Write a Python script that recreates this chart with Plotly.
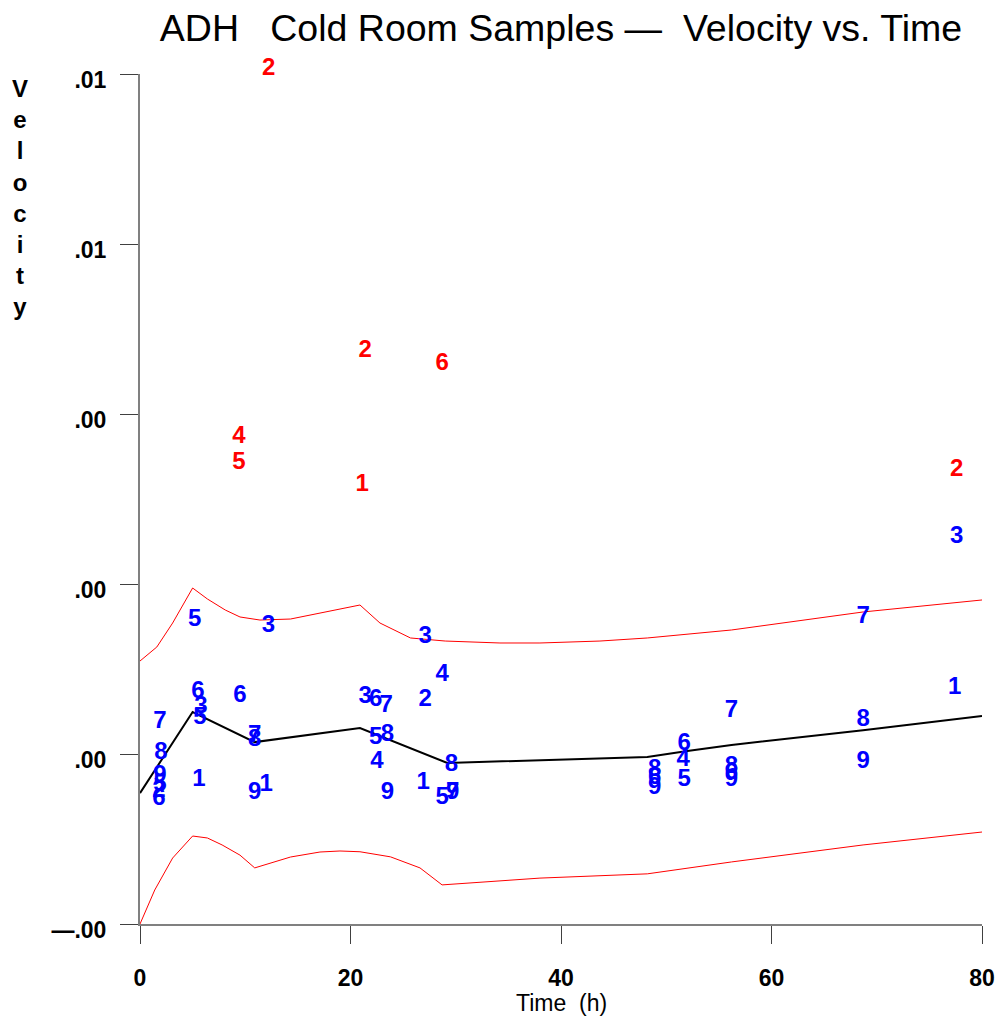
import plotly.graph_objects as go

FONT = "Liberation Sans, Arial, sans-serif"

# Outlier observations (red) : time (h), velocity, sample label
red_time = [12.2, 21.4, 28.7, 9.4, 9.4, 21.1, 77.6]
red_vel = [0.00809, 0.00474, 0.00459, 0.00373, 0.00342, 0.00316, 0.00334]
red_lab = ["2", "2", "6", "4", "5", "1", "2"]

# Regular observations (blue)
blue_time = [77.6, 5.2, 12.2, 68.7, 27.1, 28.7, 77.4, 5.5, 9.5, 21.4, 22.4, 23.4,
             27.1, 5.8, 5.7, 1.9, 56.2, 68.7, 10.9, 10.9, 22.4, 23.5, 51.7, 2.0,
             22.5, 29.6, 51.6, 68.7, 5.6, 1.9, 48.9, 48.9, 48.9, 51.7, 56.2, 56.2,
             56.2, 12.0, 10.9, 26.9, 23.5, 28.7, 29.7, 29.7, 1.9, 1.8, 1.8]
blue_vel = [0.00255, 0.00158, 0.00151, 0.00161, 0.00138, 0.00093, 0.00078, 0.00073,
            0.00068, 0.00067, 0.000635, 0.00057, 0.000635, 0.00055, 0.00042, 0.000376,
            0.000506, 0.00040, 0.00021, 0.00017, 0.00019, 0.00022, 0.00012, 0.00001,
            -0.000094, -0.00013, -0.00007, -0.000094, -0.000306, -0.00026, -0.00019,
            -0.00028, -0.00040, -0.00031, -0.00015, -0.00022, -0.00031, -0.000365,
            -0.00046, -0.00034, -0.00046, -0.00052, -0.00046, -0.00046, -0.00037,
            -0.00043, -0.00053]
blue_lab = ["3", "5", "3", "7", "3", "4", "1", "6", "6", "3", "6", "7",
            "2", "3", "5", "7", "7", "8", "7", "8", "5", "8", "6", "8",
            "4", "8", "4", "9", "1", "9", "8", "6", "9", "5", "8", "6",
            "9", "1", "9", "1", "9", "5", "7", "9", "5", "2", "6"]

# Mean curve (black)
mean_time = [0, 5.0, 10.9, 20.9, 29.2, 48.2, 52.0, 56.2, 68.7, 80]
mean_vel = [-0.00046, 0.000494, 0.00014, 0.000306, -0.000106, -0.000035,
            0.000035, 0.000106, 0.00028, 0.000447]

# Upper band (red)
up_time = [0, 1.6, 3.1, 5.0, 6.4, 8.1, 9.5, 11.4, 14.3, 17.1, 20.9, 22.8, 25.7,
           29.0, 34.2, 38.0, 43.7, 48.2, 56.2, 68.7, 80]
up_vel = [0.001094, 0.001259, 0.001541, 0.001953, 0.001824, 0.001694, 0.001612,
          0.001576, 0.001588, 0.001659, 0.001753, 0.001541, 0.001365, 0.001329,
          0.001306, 0.001306, 0.001329, 0.001365, 0.001459, 0.001671, 0.001812]

# Lower band (red)
lo_time = [0, 1.4, 3.1, 5.0, 6.4, 7.8, 9.5, 10.9, 14.3, 17.1, 19.0, 20.9, 23.8,
           26.6, 28.7, 38.0, 48.2, 56.2, 68.7, 80]
lo_vel = [-0.0020, -0.0016, -0.001224, -0.000965, -0.000988, -0.00107, -0.00119,
          -0.00134, -0.001212, -0.001153, -0.001141, -0.00115, -0.00121, -0.00134,
          -0.00154, -0.00146, -0.00141, -0.00127, -0.00107, -0.000918]

y_ticks = [-0.002, 0.0, 0.002, 0.004, 0.006, 0.008]
y_ticktext = ["\u2014.00", ".00", ".00", ".00", ".01", ".01"]
x_ticks = [0, 20, 40, 60, 80]
Y_MIN, Y_MAX = -0.002, 0.008

fig = go.Figure()
fig.add_trace(go.Scatter(x=up_time, y=up_vel, mode="lines",
                         line=dict(color="#ff0000", width=1), hoverinfo="skip"))
fig.add_trace(go.Scatter(x=lo_time, y=lo_vel, mode="lines",
                         line=dict(color="#ff0000", width=1), hoverinfo="skip"))
fig.add_trace(go.Scatter(x=mean_time, y=mean_vel, mode="lines",
                         line=dict(color="#000000", width=2), hoverinfo="skip"))
fig.add_trace(go.Scatter(x=blue_time, y=blue_vel, mode="text",
                         text=["<b>%s</b>" % t for t in blue_lab],
                         textposition="middle center", cliponaxis=False,
                         textfont=dict(family=FONT, size=24, color="#0000ff")))

# red points inside the axis range as a trace; points above the frame are
# placed via the y-axis domain (plotly hides out-of-range points/annotations)
in_idx = [i for i, v in enumerate(red_vel) if Y_MIN <= v <= Y_MAX]
out_idx = [i for i, v in enumerate(red_vel) if not (Y_MIN <= v <= Y_MAX)]
fig.add_trace(go.Scatter(x=[red_time[i] for i in in_idx],
                         y=[red_vel[i] for i in in_idx], mode="text",
                         text=["<b>%s</b>" % red_lab[i] for i in in_idx],
                         textposition="middle center", cliponaxis=False,
                         textfont=dict(family=FONT, size=24, color="#ff0000")))

annotations = [
    dict(x=red_time[i], xref="x",
         y=(red_vel[i] - Y_MIN) / (Y_MAX - Y_MIN), yref="y domain",
         text="<b>%s</b>" % red_lab[i],
         showarrow=False, xanchor="center", yanchor="middle",
         font=dict(family=FONT, size=24, color="#ff0000"))
    for i in out_idx
]
annotations += [
    dict(text="<b>" + "<br>".join(list("Velocity")) + "</b>", xref="paper", yref="paper",
         x=(20 - 140) / 842, y=1 - (197 - 74) / 850, xanchor="center",
         yanchor="middle", showarrow=False, align="center",
         font=dict(family=FONT, size=24, color="#000000")),
    dict(text="Time\u00a0\u00a0(h)", xref="paper", yref="paper",
         x=0.5, y=-(1003 - 924) / 850, xanchor="center", yanchor="middle",
         showarrow=False, font=dict(family=FONT, size=23, color="#000000")),
]

axis_common = dict(showgrid=False, zeroline=False, showline=True, automargin=False,
                   linecolor="#808080", linewidth=2, ticks="outside",
                   ticklen=18, tickwidth=1, tickcolor="#404040",
                   tickfont=dict(family=FONT, size=23, color="#000000"))

fig.update_xaxes(range=[0, 80], tickvals=x_ticks,
                 ticktext=["<b>%d</b>" % v for v in x_ticks],
                 ticklabelstandoff=14, **axis_common)
fig.update_yaxes(range=[Y_MIN, Y_MAX], tickvals=y_ticks,
                 ticktext=["<b>%s</b>" % t for t in y_ticktext],
                 ticklabelstandoff=9, ticklabelshift=6, **axis_common)

fig.update_layout(
    width=1002, height=1019,
    margin=dict(l=140, r=20, t=74, b=95),
    paper_bgcolor="white", plot_bgcolor="white",
    showlegend=False,
    title=dict(text="ADH\u00a0\u00a0\u00a0Cold Room Samples\u00a0\u2014\u00a0\u00a0Velocity vs. Time",
               x=0.5, xref="paper", y=1 - 28 / 1019, yanchor="middle",
               font=dict(family=FONT, size=37.5, color="#000000")),
    annotations=annotations,
)

fig.write_html("out.html")
